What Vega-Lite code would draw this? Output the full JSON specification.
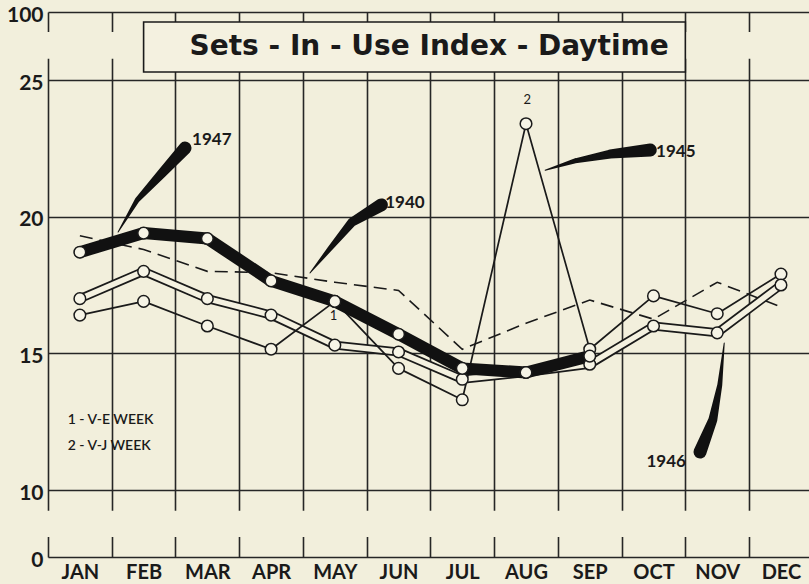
{
  "$schema": "https://vega.github.io/schema/vega-lite/v6.json",
  "width": 761,
  "height": 545,
  "autosize": {"type": "none"},
  "padding": {"left": 48, "top": 12, "right": 0, "bottom": 27},
  "background": "#f2efdc",
  "datasets": {
    "series": [
      {"year": "1940", "month": "JAN", "m": 1, "value": 19.3},
      {"year": "1940", "month": "FEB", "m": 2, "value": 18.8},
      {"year": "1940", "month": "MAR", "m": 3, "value": 18.0},
      {"year": "1940", "month": "APR", "m": 4, "value": 17.95},
      {"year": "1940", "month": "MAY", "m": 5, "value": 17.6},
      {"year": "1940", "month": "JUN", "m": 6, "value": 17.3},
      {"year": "1940", "month": "JUL", "m": 7, "value": 15.15},
      {"year": "1940", "month": "AUG", "m": 8, "value": 16.1},
      {"year": "1940", "month": "SEP", "m": 9, "value": 16.95},
      {"year": "1940", "month": "OCT", "m": 10, "value": 16.25},
      {"year": "1940", "month": "NOV", "m": 11, "value": 17.6},
      {"year": "1940", "month": "DEC", "m": 12, "value": 16.7},
      {"year": "1945", "month": "JAN", "m": 1, "value": 16.4},
      {"year": "1945", "month": "FEB", "m": 2, "value": 16.9},
      {"year": "1945", "month": "MAR", "m": 3, "value": 16.0},
      {"year": "1945", "month": "APR", "m": 4, "value": 15.15},
      {"year": "1945", "month": "MAY", "m": 5, "value": 16.9},
      {"year": "1945", "month": "JUN", "m": 6, "value": 14.45},
      {"year": "1945", "month": "JUL", "m": 7, "value": 13.3},
      {"year": "1945", "month": "AUG", "m": 8, "value": 23.4},
      {"year": "1945", "month": "SEP", "m": 9, "value": 15.15},
      {"year": "1945", "month": "OCT", "m": 10, "value": 17.1},
      {"year": "1945", "month": "NOV", "m": 11, "value": 16.45},
      {"year": "1945", "month": "DEC", "m": 12, "value": 17.9},
      {"year": "1946", "month": "JAN", "m": 1, "value": 17.0},
      {"year": "1946", "month": "FEB", "m": 2, "value": 18.0},
      {"year": "1946", "month": "MAR", "m": 3, "value": 17.0},
      {"year": "1946", "month": "APR", "m": 4, "value": 16.4},
      {"year": "1946", "month": "MAY", "m": 5, "value": 15.3},
      {"year": "1946", "month": "JUN", "m": 6, "value": 15.05},
      {"year": "1946", "month": "JUL", "m": 7, "value": 14.05},
      {"year": "1946", "month": "AUG", "m": 8, "value": 14.3},
      {"year": "1946", "month": "SEP", "m": 9, "value": 14.6},
      {"year": "1946", "month": "OCT", "m": 10, "value": 16.0},
      {"year": "1946", "month": "NOV", "m": 11, "value": 15.75},
      {"year": "1946", "month": "DEC", "m": 12, "value": 17.5},
      {"year": "1947", "month": "JAN", "m": 1, "value": 18.7},
      {"year": "1947", "month": "FEB", "m": 2, "value": 19.4},
      {"year": "1947", "month": "MAR", "m": 3, "value": 19.2},
      {"year": "1947", "month": "APR", "m": 4, "value": 17.65},
      {"year": "1947", "month": "MAY", "m": 5, "value": 16.9},
      {"year": "1947", "month": "JUN", "m": 6, "value": 15.7},
      {"year": "1947", "month": "JUL", "m": 7, "value": 14.45},
      {"year": "1947", "month": "AUG", "m": 8, "value": 14.3},
      {"year": "1947", "month": "SEP", "m": 9, "value": 14.9}
    ],
    "decor": [
      {"part": "lower break", "m": 0.3, "m2": 12.44, "value": 3.0, "value2": 6.9},
      {"part": "upper break", "m": 0.3, "m2": 12.44, "value": 48.5, "value2": 78},
      {"part": "title box", "m": 2.0, "m2": 10.5, "value": 89, "value2": 33.8}
    ],
    "notes": [
      {"kind": "title", "text": "Sets - In - Use Index - Daytime", "m": 6.48, "value": 52.6},
      {"kind": "year", "text": "1947", "m": 3.07, "value": 22.8},
      {"kind": "year", "text": "1940", "m": 6.1, "value": 20.5},
      {"kind": "year", "text": "1945", "m": 10.35, "value": 22.37},
      {"kind": "year", "text": "1946", "m": 10.2, "value": 11.02},
      {"kind": "mark", "text": "2", "m": 8.02, "value": 24.27},
      {"kind": "mark", "text": "1", "m": 4.98, "value": 16.36},
      {"kind": "key", "text": "1 - V-E WEEK", "m": 0.81, "value": 12.56},
      {"kind": "key", "text": "2 - V-J WEEK", "m": 0.81, "value": 11.6}
    ],
    "arrows": [
      {"arrow": "1947", "i": 0, "m": 2.65, "value": 22.51},
      {"arrow": "1947", "i": 1, "m": 2.26, "value": 21.52},
      {"arrow": "1947", "i": 2, "m": 1.9, "value": 20.61},
      {"arrow": "1947", "i": 3, "m": 1.6, "value": 19.44},
      {"arrow": "1940", "i": 0, "m": 5.73, "value": 20.43},
      {"arrow": "1940", "i": 1, "m": 5.27, "value": 19.8},
      {"arrow": "1940", "i": 2, "m": 4.92, "value": 18.82},
      {"arrow": "1940", "i": 3, "m": 4.61, "value": 17.94},
      {"arrow": "1945", "i": 0, "m": 9.95, "value": 22.44},
      {"arrow": "1945", "i": 1, "m": 9.32, "value": 22.29},
      {"arrow": "1945", "i": 2, "m": 8.77, "value": 22.04},
      {"arrow": "1945", "i": 3, "m": 8.3, "value": 21.7},
      {"arrow": "1946", "i": 0, "m": 10.73, "value": 11.39},
      {"arrow": "1946", "i": 1, "m": 10.93, "value": 12.56},
      {"arrow": "1946", "i": 2, "m": 11.04, "value": 13.84},
      {"arrow": "1946", "i": 3, "m": 11.11, "value": 15.38}
    ]
  },
  "encoding": {
    "x": {
      "field": "m",
      "type": "quantitative",
      "scale": {"domain": [0.5, 12.44], "nice": false, "zero": false},
      "axis": {
        "title": null,
        "values": [0.5, 1.5, 2.5, 3.5, 4.5, 5.5, 6.5, 7.5, 8.5, 9.5, 10.5, 11.5],
        "labelExpr": "['JAN','FEB','MAR','APR','MAY','JUN','JUL','AUG','SEP','OCT','NOV','DEC'][round(datum.value - 0.5)]",
        "labelOffset": 31.87,
        "labelPadding": 5,
        "labelFontSize": 20
      }
    },
    "y": {
      "field": "value",
      "type": "quantitative",
      "scale": {"domain": [0, 10, 25, 100], "range": [545, 478, 68, 0], "nice": false, "zero": false},
      "axis": {
        "title": null,
        "values": [0, 10, 15, 20, 25, 100],
        "labelPadding": 5,
        "labelOffset": 3,
        "labelFontSize": 21
      }
    }
  },
  "layer": [
    {
      "data": {"name": "decor"},
      "transform": [{"filter": "datum.part != 'title box'"}],
      "mark": {"type": "rect", "fill": "#f2efdc", "strokeWidth": 0},
      "encoding": {
        "x2": {"field": "m2"},
        "y2": {"field": "value2"}
      }
    },
    {
      "data": {"name": "decor"},
      "transform": [{"filter": "datum.part == 'title box'"}],
      "mark": {"type": "rect", "fill": "#f4f1e0", "stroke": "#1a1a1a", "strokeWidth": 1.6},
      "encoding": {
        "x2": {"field": "m2"},
        "y2": {"field": "value2"}
      }
    },
    {
      "data": {"name": "series"},
      "transform": [{"filter": "datum.year == '1940'"}],
      "mark": {"type": "line", "color": "#1a1a1a", "strokeWidth": 1.6, "strokeDash": [13, 7]}
    },
    {
      "data": {"name": "series"},
      "transform": [{"filter": "datum.year == '1946'"}],
      "mark": {"type": "line", "color": "#1a1a1a", "strokeWidth": 9, "strokeCap": "round", "strokeJoin": "round"}
    },
    {
      "data": {"name": "series"},
      "transform": [{"filter": "datum.year == '1946'"}],
      "mark": {"type": "line", "color": "#f4f1e0", "strokeWidth": 5.5, "strokeCap": "round", "strokeJoin": "round"}
    },
    {
      "data": {"name": "series"},
      "transform": [{"filter": "datum.year == '1945'"}],
      "mark": {"type": "line", "color": "#1a1a1a", "strokeWidth": 1.7, "strokeJoin": "round"}
    },
    {
      "data": {"name": "series"},
      "transform": [{"filter": "datum.year == '1947'"}],
      "mark": {"type": "line", "color": "#111111", "strokeWidth": 12, "strokeCap": "round", "strokeJoin": "round"}
    },
    {
      "data": {"name": "series"},
      "transform": [{"filter": "datum.year != '1940'"}],
      "mark": {"type": "point", "shape": "circle", "filled": true, "fill": "#f6f4e6", "stroke": "#1a1a1a", "strokeWidth": 1.5, "size": 135, "opacity": 1}
    },
    {
      "data": {"name": "arrows"},
      "mark": {"type": "trail", "color": "#111111"},
      "encoding": {
        "detail": {"field": "arrow"},
        "order": {"field": "i", "type": "quantitative"},
        "size": {"field": "i", "type": "quantitative", "scale": {"domain": [0, 3], "range": [13, 1]}, "legend": null}
      }
    },
    {
      "data": {"name": "notes"},
      "transform": [{"filter": "datum.kind == 'title'"}],
      "mark": {"type": "text", "font": "DejaVu Sans", "fontSize": 28, "fontWeight": "bold", "color": "#1a1a1a", "align": "center", "baseline": "alphabetic"},
      "encoding": {"text": {"field": "text"}}
    },
    {
      "data": {"name": "notes"},
      "transform": [{"filter": "datum.kind == 'year'"}],
      "mark": {"type": "text", "font": "Lato", "fontSize": 17, "fontWeight": "bold", "color": "#1a1a1a", "align": "center", "baseline": "middle"},
      "encoding": {"text": {"field": "text"}}
    },
    {
      "data": {"name": "notes"},
      "transform": [{"filter": "datum.kind == 'mark'"}],
      "mark": {"type": "text", "font": "Lato", "fontSize": 13, "color": "#1a1a1a", "align": "center", "baseline": "middle"},
      "encoding": {"text": {"field": "text"}}
    },
    {
      "data": {"name": "notes"},
      "transform": [{"filter": "datum.kind == 'key'"}],
      "mark": {"type": "text", "font": "Lato", "fontSize": 14, "fontWeight": 600, "color": "#1a1a1a", "align": "left", "baseline": "middle"},
      "encoding": {"text": {"field": "text"}}
    }
  ],
  "config": {
    "view": {"stroke": null},
    "axis": {
      "labelFont": "Lato",
      "labelFontSize": 19,
      "labelFontWeight": "bold",
      "labelColor": "#1a1a1a",
      "labelFlush": false,
      "labelOverlap": false,
      "labelBound": false,
      "ticks": false,
      "domain": false,
      "grid": true,
      "gridColor": "#262626",
      "gridWidth": 1.6,
      "gridOpacity": 1
    }
  }
}
